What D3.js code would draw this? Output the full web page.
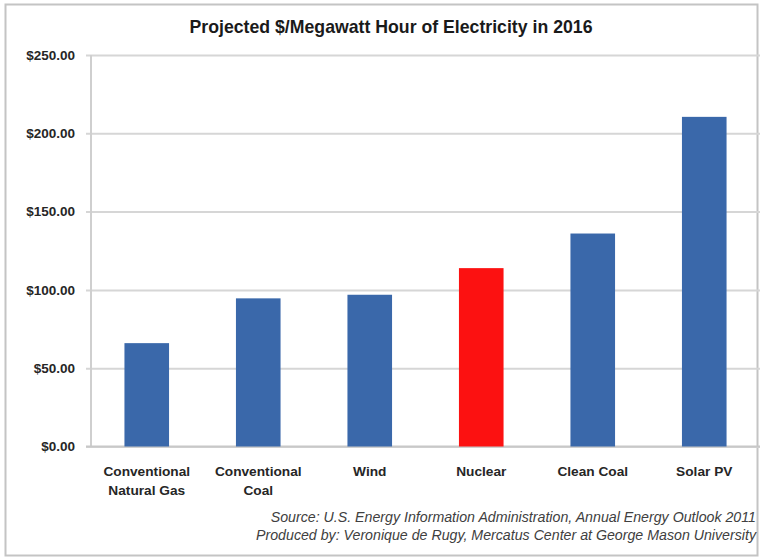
<!DOCTYPE html>
<html>
<head>
<meta charset="utf-8">
<script src="https://cdn.jsdelivr.net/npm/d3@7"></script>
<style>
  html, body { margin: 0; padding: 0; background: #ffffff; }
  svg { display: block; }
</style>
</head>
<body>
<svg id="chart" width="762" height="558"></svg>
<script>
// Levelized cost by generation source, $/MWh
const categories = ["Conventional Natural Gas", "Conventional Coal", "Wind", "Nuclear", "Clean Coal", "Solar PV"];
const categoryLines = [["Conventional", "Natural Gas"], ["Conventional", "Coal"], ["Wind"], ["Nuclear"], ["Clean Coal"], ["Solar PV"]];
const costs = [66.0, 94.6, 96.9, 113.9, 136.0, 210.5];
const highlighted = ["Nuclear"];
const yTicks = [0, 50, 100, 150, 200, 250];
const title = "Projected $/Megawatt Hour of Electricity in 2016";
const sourceLines = [
  "Source: U.S. Energy Information Administration, Annual Energy Outlook 2011",
  "Produced by: Veronique de Rugy, Mercatus Center at George Mason University"
];

const svg = d3.select("#chart");
const font = "'Liberation Sans', Arial, sans-serif";

// outer frame
svg.append("rect")
  .attr("x", 5.5).attr("y", 4.5)
  .attr("width", 752).attr("height", 551)
  .attr("fill", "#ffffff")
  .attr("stroke", "#c4c4c4")
  .attr("stroke-width", 2);

const plot = { left: 91, right: 760, top: 55, bottom: 446.5 };

const x = d3.scaleBand()
  .domain(categories)
  .range([plot.left, plot.right])
  .paddingInner(0.6)
  .paddingOuter(0.3);

const y = d3.scaleLinear()
  .domain([0, 250])
  .range([plot.bottom, plot.top]);

// gridlines + tick labels
const yAxis = d3.axisLeft(y)
  .tickValues(yTicks)
  .tickSize(-(plot.right - plot.left))
  .tickSizeOuter(0)
  .tickPadding(16)
  .tickFormat(d => "$" + d3.format(".2f")(d));

const gy = svg.append("g")
  .attr("transform", `translate(${plot.left},0)`)
  .call(yAxis);
gy.select(".domain").remove();
gy.selectAll(".tick line")
  .attr("x1", -5)
  .attr("stroke", "#d6d6d6")
  .attr("stroke-width", 2);
gy.selectAll(".tick text")
  .attr("fill", "#262626")
  .style("font-family", font)
  .style("font-weight", "bold")
  .style("font-size", "13.5px");

// vertical axis line
svg.append("line")
  .attr("x1", plot.left).attr("x2", plot.left)
  .attr("y1", y(250)).attr("y2", plot.bottom)
  .attr("stroke", "#cfcfcf")
  .attr("stroke-width", 2);

// baseline
svg.append("line")
  .attr("x1", plot.left - 5).attr("x2", plot.right)
  .attr("y1", plot.bottom).attr("y2", plot.bottom)
  .attr("stroke", "#c8c8c8")
  .attr("stroke-width", 2);

// bars
svg.append("g")
  .selectAll("rect")
  .data(categories)
  .join("rect")
  .attr("x", d => x(d))
  .attr("width", x.bandwidth())
  .attr("y", (d, i) => y(costs[i]))
  .attr("height", (d, i) => plot.bottom - y(costs[i]))
  .attr("fill", d => highlighted.includes(d) ? "#fc1111" : "#3a68aa");

// category labels
const xl = svg.append("g");
categories.forEach((c, i) => {
  const cx = x(c) + x.bandwidth() / 2;
  const t = xl.append("text")
    .attr("x", cx)
    .attr("y", 476)
    .attr("text-anchor", "middle")
    .attr("fill", "#262626")
    .style("font-family", font)
    .style("font-weight", "bold")
    .style("font-size", "13.7px");
  categoryLines[i].forEach((line, j) => {
    t.append("tspan")
      .attr("x", cx)
      .attr("dy", j === 0 ? 0 : 19)
      .text(line);
  });
});

// title
svg.append("text")
  .attr("x", 391)
  .attr("y", 33)
  .attr("text-anchor", "middle")
  .attr("fill", "#1a1a1a")
  .style("font-family", font)
  .style("font-weight", "bold")
  .style("font-size", "17.7px")
  .text(title);

// source notes
sourceLines.forEach((s, i) => {
  svg.append("text")
    .attr("x", 756)
    .attr("y", 522 + i * 18)
    .attr("text-anchor", "end")
    .attr("fill", "#404040")
    .style("font-family", font)
    .style("font-style", "italic")
    .style("font-size", "14.2px")
    .text(s);
});
</script>
</body>
</html>
